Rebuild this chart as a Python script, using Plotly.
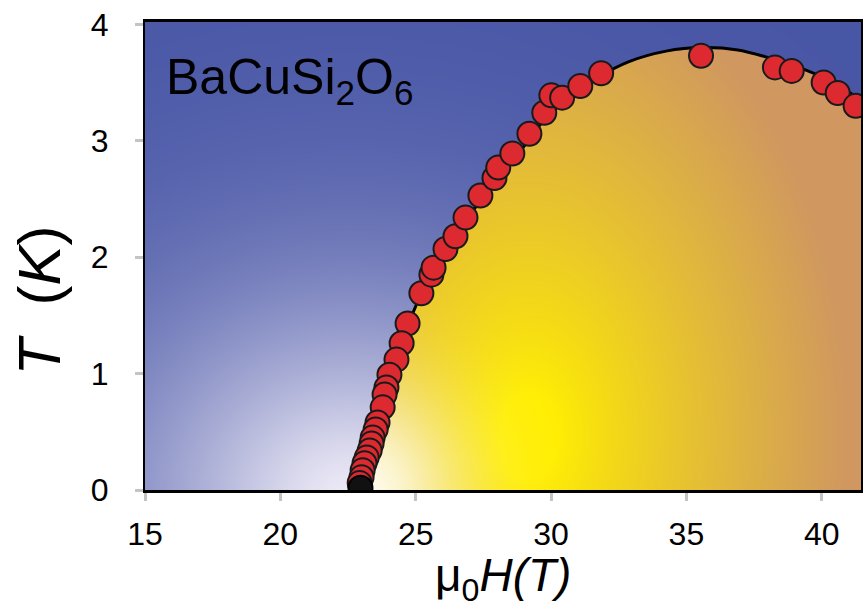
import base64
import struct
import zlib

import numpy as np
import plotly.graph_objects as go

# Phase boundary measurements: field (T) and ordering temperature (K)
field_T = [24.70, 25.21, 25.58, 25.66, 26.10, 26.47, 26.84, 27.39, 27.91, 28.05,
           28.57, 29.20, 29.75, 30.01, 30.41, 31.08, 31.85, 35.54, 38.27, 38.89,
           40.07, 40.59, 41.25,
           24.48, 24.29, 24.03, 23.92, 23.85, 23.78, 23.59, 23.52, 23.41, 23.37,
           23.30, 23.19, 23.11, 23.04, 23.00, 22.93]
temp_K = [1.43, 1.69, 1.85, 1.91, 2.07, 2.18, 2.34, 2.53, 2.68, 2.77,
          2.89, 3.06, 3.24, 3.39, 3.37, 3.47, 3.58, 3.73, 3.63, 3.60,
          3.50, 3.41, 3.30,
          1.26, 1.12, 0.99, 0.88, 0.82, 0.71, 0.58, 0.52, 0.45, 0.40,
          0.34, 0.28, 0.23, 0.17, 0.11, 0.06]

# Quantum critical point
qcp_field = [22.96]
qcp_temp = [0.02]

# Phase boundary line
curve_H = [22.96, 23.30, 23.67, 24.11, 24.59, 25.14, 25.88, 26.80, 27.72, 28.83,
           29.75, 30.67, 31.78, 32.88, 34.25, 35.60, 36.90, 37.94, 39.15, 40.26, 41.47]
curve_T = [0.00, 0.30, 0.62, 0.96, 1.33, 1.65, 1.96, 2.30, 2.58, 2.90,
           3.18, 3.37, 3.55, 3.68, 3.77, 3.80, 3.78, 3.72, 3.63, 3.52, 3.35]

x_ticks = [15, 20, 25, 30, 35, 40]
y_ticks = [0, 1, 2, 3, 4]

X_RANGE = [15.0, 41.45]
Y_RANGE = [0.0, 4.02]

# ---- shaded background (rendered as a raster behind the data) ----
W, H = 718, 468
cols = np.arange(W) + 0.5
rows = np.arange(H) + 0.5
PX, PY = np.meshgrid(cols, rows)          # plot-area pixel coordinates
Hgrid = X_RANGE[0] + PX / W * (X_RANGE[1] - X_RANGE[0])
Tgrid = Y_RANGE[1] - PY / H * (Y_RANGE[1] - Y_RANGE[0])

boundary = np.interp(Hgrid, curve_H, curve_T, left=-1.0, right=curve_T[-1])
inside = np.clip((boundary - Tgrid) / 0.02 + 0.5, 0, 1)[..., None]

# outer (paramagnetic) region: deep blue fading to a pale haze near the QCP
blue = np.array([72, 86, 166], float)
haze = np.array([238, 235, 247], float)
dx = (PX - 205) / 1.15
dy = PY - 478
d = np.hypot(dx, dy)
s = np.exp(-(d / 205.0) ** 1.5)[..., None]
outside_rgb = blue * (1 - s) + haze * s

# ordered dome: bright yellow core, tan toward the top and right, white glow
yellow = np.array([255, 238, 0], float)
tan = np.array([208, 152, 96], float)
cx = PX - 385
cy = (PY - 415) / 1.5
t = np.clip((np.hypot(cx, cy) - 30.0) / 290.0, 0, 1)[..., None] ** 0.85
dome_rgb = yellow * (1 - t) + tan * t
g = np.exp(-(np.hypot(PX - 212, (PY - 475) / 1.1) / 105.0) ** 2)[..., None]
dome_rgb = dome_rgb * (1 - g) + np.array([255, 253, 238], float) * g

rgb = outside_rgb * (1 - inside) + dome_rgb * inside
rgb = np.clip(rgb, 0, 255).astype(np.uint8)


def to_png(arr):
    h, w, _ = arr.shape
    raw = b"".join(b"\x00" + arr[i].tobytes() for i in range(h))

    def chunk(tag, data):
        c = struct.pack(">I", len(data)) + tag + data
        return c + struct.pack(">I", zlib.crc32(tag + data) & 0xFFFFFFFF)

    return (b"\x89PNG\r\n\x1a\n"
            + chunk(b"IHDR", struct.pack(">IIBBBBB", w, h, 8, 2, 0, 0, 0))
            + chunk(b"IDAT", zlib.compress(raw, 9))
            + chunk(b"IEND", b""))


bg_src = "data:image/png;base64," + base64.b64encode(to_png(rgb)).decode()

# ---- figure ----
fig = go.Figure()

fig.add_trace(go.Scatter(
    x=curve_H, y=curve_T, mode="lines",
    line=dict(color="black", width=3, shape="spline", smoothing=0.8),
    hoverinfo="skip", showlegend=False,
))

fig.add_trace(go.Scatter(
    x=field_T, y=temp_K, mode="markers",
    marker=dict(size=24, color="#dc2a30", line=dict(color="#1a1a1a", width=2)),
    showlegend=False,
))

fig.add_trace(go.Scatter(
    x=qcp_field, y=qcp_temp, mode="markers",
    marker=dict(size=24, color="#111111", line=dict(color="#000000", width=2)),
    showlegend=False,
))

tick_font = dict(family="Liberation Sans, Arial, sans-serif", size=32, color="black")

fig.update_layout(
    width=865, height=613,
    margin=dict(l=145, r=2, t=22, b=123),
    paper_bgcolor="white",
    plot_bgcolor="rgb(72,86,166)",
    images=[dict(
        source=bg_src, xref="x", yref="y",
        x=X_RANGE[0], y=Y_RANGE[1],
        sizex=X_RANGE[1] - X_RANGE[0], sizey=Y_RANGE[1] - Y_RANGE[0],
        xanchor="left", yanchor="top", sizing="stretch", layer="below",
    )],
    xaxis=dict(
        range=X_RANGE, tickvals=x_ticks, ticktext=[str(v) for v in x_ticks],
        ticks="outside", ticklen=8, tickwidth=3, tickcolor="#c4c4c4",
        showline=True, linecolor="black", linewidth=3, mirror=True,
        showgrid=False, zeroline=False, tickfont=tick_font,
        ticklabelstandoff=6,
    ),
    yaxis=dict(
        range=Y_RANGE, tickvals=y_ticks, ticktext=[str(v) for v in y_ticks],
        ticks="outside", ticklen=8, tickwidth=3, tickcolor="#c4c4c4",
        showline=True, linecolor="black", linewidth=2, mirror=True,
        showgrid=False, zeroline=False, tickfont=tick_font,
        ticklabelstandoff=20,
    ),
    xaxis2=dict(
        overlaying="x", matches="x", side="bottom", tickvals=x_ticks,
        ticks="inside", ticklen=8, tickwidth=3, tickcolor="#c4c4c4",
        showticklabels=False, showline=False, showgrid=False, zeroline=False,
    ),
    yaxis2=dict(
        overlaying="y", matches="y", side="left", tickvals=y_ticks,
        ticks="inside", ticklen=8, tickwidth=3, tickcolor="#c4c4c4",
        showticklabels=False, showline=False, showgrid=False, zeroline=False,
    ),
    annotations=[
        dict(text="BaCuSi<sub>2</sub>O<sub>6</sub>", xref="paper", yref="paper",
             x=0.026, y=0.875, xanchor="left", yanchor="middle", showarrow=False,
             font=dict(family="Liberation Sans, Arial, sans-serif", size=50, color="black")),
        dict(text="\u03bc<sub>0</sub><i>H(T)</i>", xref="paper", yref="paper",
             x=0.5, y=-0.19, xanchor="center", yanchor="middle", showarrow=False,
             font=dict(family="Liberation Sans, Arial, sans-serif", size=46, color="black")),
        dict(text="<i>T</i>  (<i>K</i>)", xref="paper", yref="paper",
             x=-0.148, y=0.405, xanchor="center", yanchor="middle", showarrow=False,
             textangle=-90,
             font=dict(family="Liberation Sans, Arial, sans-serif", size=60, color="black")),
    ],
)

fig.write_html("out.html")
